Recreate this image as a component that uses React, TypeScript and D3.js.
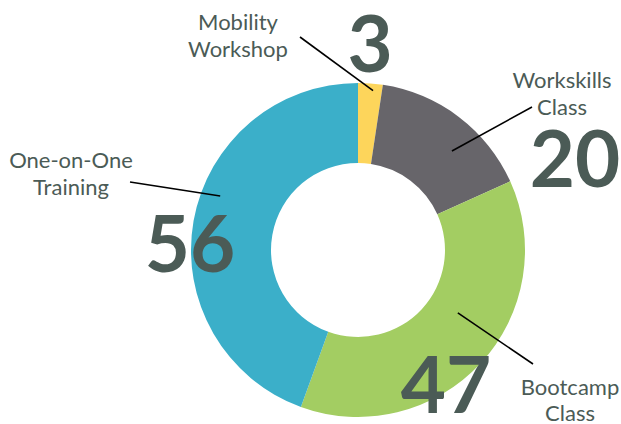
import React from "react";
import * as d3 from "d3";

const categories = ["Mobility Workshop", "Workskills Class", "Bootcamp Class", "One-on-One Training"];
const labelLines = [["Mobility", "Workshop"], ["Workskills", "Class"], ["Bootcamp", "Class"], ["One-on-One", "Training"]];
const values = [3, 20, 47, 56];
const colors = ["#FDD55B", "#67656A", "#A3CD62", "#3BAFC9"];

// annotation layout (label centre/baseline, number centre/baseline, leader ends)
const labelPos = [
  { x: 238, y: 30 },
  { x: 562, y: 88 },
  { x: 570, y: 394.5 },
  { x: 71, y: 168 },
];
const numberPos = [
  { x: 370, y: 72 },
  { x: 575, y: 187 },
  { x: 446, y: 413 },
  { x: 190, y: 272 },
];
const leaderInner = [
  { a: 5.4, r: 160 },
  { a: 43.5, r: 136.5 },
  { a: 122.2, r: 118 },
  { a: 291.4, r: 148 },
];
const leaderOuter = [
  { x: 300, y: 37 },
  { x: 532, y: 107 },
  { x: 533, y: 364 },
  { x: 130, y: 182 },
];

const W = 621;
const H = 424;
const cx = 358;
const cy = 250;
const outerR = 167;
const innerR = 87;
const textColor = "#4B5B56";

export default function App() {
  const pie = d3.pie<number>().sort(null).value((d) => d);
  const arcs = pie(values);
  const arc = d3.arc<d3.PieArcDatum<number>>().innerRadius(innerR).outerRadius(outerR);

  return (
    <svg
      width={W}
      height={H}
      style={{ position: "absolute", left: 0, top: 0, background: "#fff" }}
      fontFamily="Lato, 'Open Sans', sans-serif"
    >
      <g transform={`translate(${cx},${cy})`}>
        {arcs.map((a, i) => (
          <path key={categories[i]} d={arc(a) || ""} fill={colors[i]} />
        ))}
      </g>
      {categories.map((c, i) => {
        const [px, py] = d3.pointRadial((leaderInner[i].a * Math.PI) / 180, leaderInner[i].r);
        return (
          <line
            key={"l" + c}
            x1={cx + px}
            y1={cy + py}
            x2={leaderOuter[i].x}
            y2={leaderOuter[i].y}
            stroke="#000"
            strokeWidth={1.6}
          />
        );
      })}
      {categories.map((c, i) => (
        <text
          key={"t" + c}
          x={labelPos[i].x}
          y={labelPos[i].y}
          textAnchor="middle"
          fontSize={22}
          fill={textColor}
        >
          {labelLines[i].map((ln, j) => (
            <tspan key={j} x={labelPos[i].x} dy={j === 0 ? 0 : 26.5}>
              {ln}
            </tspan>
          ))}
        </text>
      ))}
      {values.map((v, i) => (
        <text
          key={"n" + i}
          x={numberPos[i].x}
          y={numberPos[i].y}
          textAnchor="middle"
          fontSize={78}
          fontWeight="bold"
          fill={textColor}
        >
          {v}
        </text>
      ))}
    </svg>
  );
}
